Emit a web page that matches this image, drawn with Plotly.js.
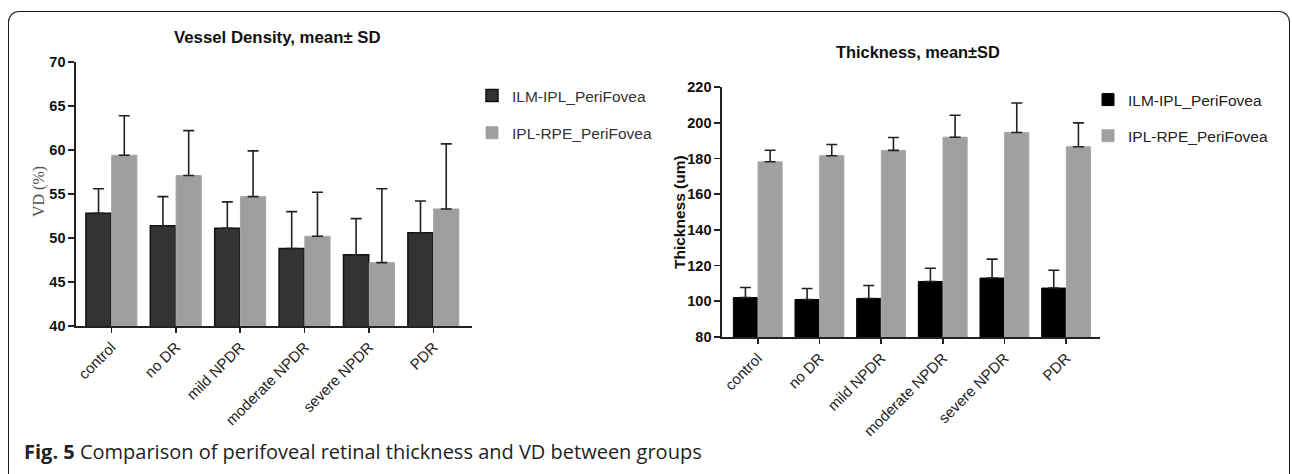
<!DOCTYPE html>
<html>
<head>
<meta charset="utf-8">
<script src="https://cdn.plot.ly/plotly-3.0.1.min.js"></script>
<style>
  html, body { margin: 0; padding: 0; background: #fff; }
  #wrap { position: relative; width: 1292px; height: 474px; overflow: hidden; }
  #chart { position: absolute; left: 0; top: 0; width: 1292px; height: 474px; }
  #frame { position: absolute; left: 8px; top: 11px; width: 1282px; height: 500px;
           border: 1.6px solid #1a1a1a; border-bottom: none; border-radius: 11px 11px 0 0;
           box-sizing: border-box; pointer-events: none; }
  #caption { position: absolute; left: 24px; top: 438px; font-family: "Open Sans", "Noto Sans", sans-serif;
             font-size: 20px; color: #222; white-space: nowrap; }
  #caption b { font-weight: 700; }
</style>
</head>
<body>
<div id="wrap">
  <div id="chart"></div>
  <div id="frame"></div>
  <div id="caption"><b>Fig. 5</b> Comparison of perifoveal retinal thickness and VD between groups</div>
</div>
<script>
// ---- data ----
const categories = ['control', 'no DR', 'mild NPDR', 'moderate NPDR', 'severe NPDR', 'PDR'];
const seriesNames = ['ILM-IPL_PeriFovea', 'IPL-RPE_PeriFovea'];

const vdILM   = [52.8, 51.4, 51.1, 48.8, 48.1, 50.6];
const vdILMsd = [2.8, 3.3, 3.0, 4.2, 4.1, 3.6];
const vdIPL   = [59.4, 57.1, 54.7, 50.2, 47.2, 53.3];
const vdIPLsd = [4.5, 5.1, 5.2, 5.0, 8.4, 7.4];

const thILM   = [102.1, 101.0, 101.6, 111.1, 113.0, 107.4];
const thILMsd = [5.6, 6.2, 7.2, 7.4, 10.6, 10.0];
const thIPL   = [178.1, 181.5, 184.5, 191.9, 194.5, 186.5];
const thIPLsd = [6.5, 6.3, 7.2, 12.3, 16.5, 13.4];

const vdTicks = [40, 45, 50, 55, 60, 65, 70];
const thTicks = [80, 100, 120, 140, 160, 180, 200, 220];

// ---- helpers ----
const W = 1292, H = 474;
const px = v => v / W;
const py = v => 1 - v / H;
const zeros = categories.map(() => 0);

function errBar(sd) {
  return { type: 'data', symmetric: false, array: sd, arrayminus: zeros,
           color: '#222', thickness: 1.6, width: 5.5 };
}

const traces = [
  { type: 'bar', x: categories, y: vdILM, name: seriesNames[0], xaxis: 'x', yaxis: 'y',
    legend: 'legend', legendgroup: 'a1',
    marker: { color: '#333333', line: { color: '#111', width: 1.5 } }, error_y: errBar(vdILMsd) },
  { type: 'bar', x: categories, y: vdIPL, name: seriesNames[1], xaxis: 'x', yaxis: 'y',
    legend: 'legend', legendgroup: 'a2',
    marker: { color: '#9e9e9e', line: { color: '#a8a8a8', width: 1 } }, error_y: errBar(vdIPLsd) },
  { type: 'bar', x: categories, y: thILM, name: seriesNames[0], xaxis: 'x2', yaxis: 'y2',
    legend: 'legend2', legendgroup: 'b1',
    marker: { color: '#000000', line: { color: '#000', width: 1 } }, error_y: errBar(thILMsd) },
  { type: 'bar', x: categories, y: thIPL, name: seriesNames[1], xaxis: 'x2', yaxis: 'y2',
    legend: 'legend2', legendgroup: 'b2',
    marker: { color: '#a0a0a0', line: { color: '#a8a8a8', width: 1 } }, error_y: errBar(thIPLsd) }
];

const tickFontY = { family: 'Liberation Sans, Arial, sans-serif', size: 14.5, color: '#111', weight: 'bold' };
const tickFontX = { family: 'Liberation Sans, Arial, sans-serif', size: 15, color: '#222' };

const xCommon = {
  type: 'category', tickangle: -45, tickfont: tickFontX, showline: true, linecolor: '#222',
  linewidth: 1.6, ticks: 'outside', ticklen: 5, tickwidth: 1.6, tickcolor: '#222',
  showgrid: false, zeroline: false, fixedrange: true
};
const yCommon = {
  tickfont: tickFontY, showline: true, linecolor: '#222', linewidth: 1.6, ticks: 'outside',
  ticklen: 6, tickwidth: 1.6, tickcolor: '#222', showgrid: false, zeroline: false, fixedrange: true
};

const layout = {
  width: W, height: H,
  margin: { l: 0, r: 0, t: 0, b: 0 },
  paper_bgcolor: 'rgba(0,0,0,0)', plot_bgcolor: 'rgba(0,0,0,0)',
  showlegend: true,
  barmode: 'group', bargap: 0.2, bargroupgap: 0.02,
  xaxis: Object.assign({}, xCommon, { domain: [px(76), px(472)], anchor: 'y', range: [-0.55, 5.6] }),
  yaxis: Object.assign({}, yCommon, { domain: [py(326), py(62)], anchor: 'x', range: [40, 70],
                                      tickvals: vdTicks }),
  xaxis2: Object.assign({}, xCommon, { domain: [px(722), px(1100)], anchor: 'y2', range: [-0.58, 5.55] }),
  yaxis2: Object.assign({}, yCommon, { domain: [py(337), py(87)], anchor: 'x2', range: [80, 220],
                                       tickvals: thTicks }),
  legend: {
    x: px(472), y: py(79), xanchor: 'left', yanchor: 'top', xref: 'paper', yref: 'paper',
    bgcolor: 'rgba(0,0,0,0)', font: { family: 'Liberation Sans, Arial, sans-serif', size: 15.5, color: '#333' },
    tracegroupgap: 14, traceorder: 'grouped'
  },
  legend2: {
    x: px(1088), y: py(83), xanchor: 'left', yanchor: 'top', xref: 'paper', yref: 'paper',
    bgcolor: 'rgba(0,0,0,0)', font: { family: 'Liberation Sans, Arial, sans-serif', size: 15.5, color: '#222' },
    tracegroupgap: 13, traceorder: 'grouped'
  },
  annotations: [
    { text: 'Vessel Density, mean\u00b1 SD', xref: 'paper', yref: 'paper', x: px(277), y: py(37),
      xanchor: 'center', yanchor: 'middle', showarrow: false,
      font: { family: 'Liberation Sans, Arial, sans-serif', size: 16.8, color: '#111', weight: 'bold' } },
    { text: 'Thickness, mean\u00b1SD', xref: 'paper', yref: 'paper', x: px(918), y: py(52),
      xanchor: 'center', yanchor: 'middle', showarrow: false,
      font: { family: 'Liberation Sans, Arial, sans-serif', size: 16.4, color: '#111', weight: 'bold' } },
    { text: 'VD (%)', xref: 'paper', yref: 'paper', x: px(39), y: py(192), textangle: -90,
      xanchor: 'center', yanchor: 'middle', showarrow: false,
      font: { family: 'Liberation Serif, Times New Roman, serif', size: 16, color: '#555' } },
    { text: 'Thickness (um)', xref: 'paper', yref: 'paper', x: px(679), y: py(212), textangle: -90,
      xanchor: 'center', yanchor: 'middle', showarrow: false,
      font: { family: 'Liberation Sans, Arial, sans-serif', size: 15.5, color: '#111', weight: 'bold' } }
  ]
};

Plotly.newPlot('chart', traces, layout, { staticPlot: true, displayModeBar: false });
</script>
</body>
</html>
